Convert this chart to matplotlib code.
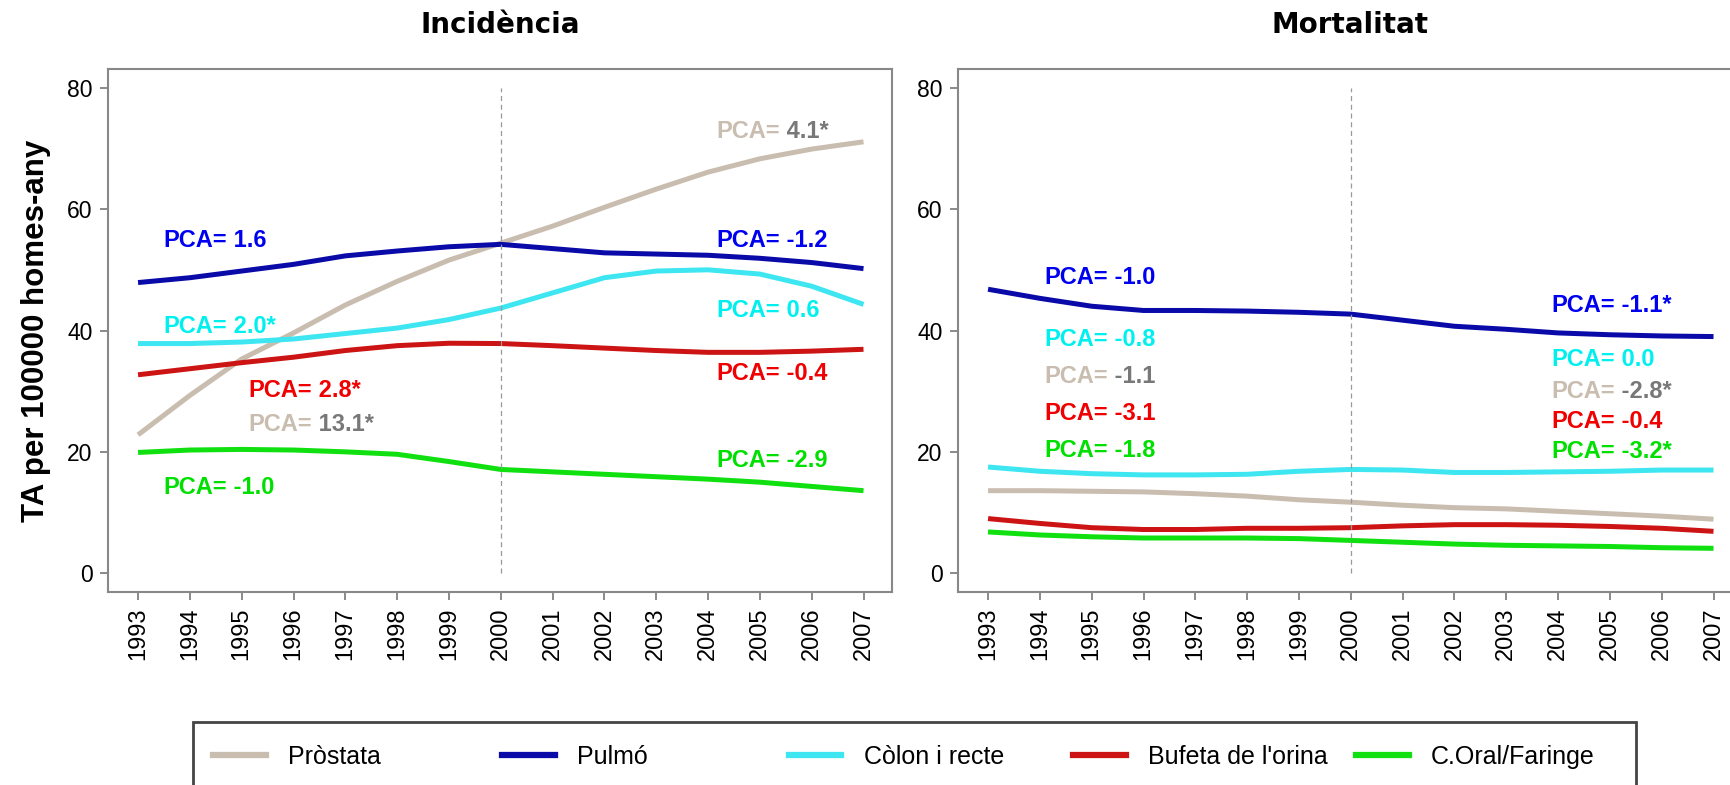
import matplotlib.pyplot as plt
from matplotlib.lines import Line2D
from matplotlib.patches import Rectangle

years = list(range(1993, 2008))
series_names = ['Pròstata', 'Pulmó', 'Còlon i recte', "Bufeta de l'orina", 'C.Oral/Faringe']

# Incidencia (TA per 100000 homes-any)
inc_prostata = [22.8, 29.3, 35.3, 39.6, 44.2, 48.1, 51.6, 54.4, 57.2, 60.3, 63.3, 66.1, 68.3, 69.9, 71.1]
inc_pulmo = [47.9, 48.7, 49.8, 50.9, 52.3, 53.1, 53.8, 54.2, 53.5, 52.8, 52.6, 52.4, 51.9, 51.2, 50.2]
inc_colon = [37.85, 37.85, 38.1, 38.6, 39.5, 40.4, 41.8, 43.7, 46.2, 48.7, 49.8, 50.0, 49.3, 47.3, 44.3]
inc_bufeta = [32.7, 33.7, 34.7, 35.6, 36.7, 37.5, 37.9, 37.85, 37.5, 37.1, 36.7, 36.4, 36.4, 36.6, 36.9]
inc_oral = [19.9, 20.3, 20.4, 20.3, 20.0, 19.6, 18.4, 17.1, 16.7, 16.3, 15.9, 15.5, 15.0, 14.3, 13.6]

# Mortalitat
mort_prostata = [13.6, 13.6, 13.5, 13.4, 13.1, 12.7, 12.1, 11.7, 11.2, 10.8, 10.6, 10.2, 9.8, 9.4, 8.9]
mort_pulmo = [46.8, 45.3, 44.0, 43.3, 43.3, 43.2, 43.0, 42.7, 41.7, 40.7, 40.2, 39.6, 39.3, 39.1, 39.0]
mort_colon = [17.5, 16.8, 16.4, 16.2, 16.2, 16.3, 16.8, 17.1, 17.0, 16.6, 16.6, 16.7, 16.8, 17.0, 17.0]
mort_bufeta = [9.0, 8.2, 7.5, 7.2, 7.2, 7.4, 7.4, 7.5, 7.8, 8.0, 8.0, 7.9, 7.7, 7.4, 6.9]
mort_oral = [6.8, 6.3, 6.0, 5.8, 5.8, 5.8, 5.7, 5.4, 5.1, 4.8, 4.6, 4.5, 4.4, 4.2, 4.1]

# PCA per periode (1993-2000, 2000-2007), same order as series_names
pca_inc_1 = ['13.1*', '1.6', '2.0*', '2.8*', '-1.0']
pca_inc_2 = ['4.1*', '-1.2', '0.6', '-0.4', '-2.9']
pca_mort_1 = ['-1.1', '-1.0', '-0.8', '-3.1', '-1.8']
pca_mort_2 = ['-2.8*', '-1.1*', '0.0', '-0.4', '-3.2*']

line_colors = ['#C9BDB0', '#0A0AA8', '#3DE6F0', '#CC1414', '#10E010']
text_colors = ['#C9BDB0', '#0000F0', '#00F0F0', '#F00000', '#00E000']
gray_num = '#787878'

W, H = 1731, 785
fig = plt.figure(figsize=(W/100, H/100), dpi=100)
ax_l = fig.add_axes([108/W, 1-592/H, 784/W, 523/H])
ax_r = fig.add_axes([958/W, 1-592/H, 784/W, 523/H])


def draw_panel(ax, data, title, pca1, pca2, pos1, pos2):
    for i, y in enumerate(data):
        ax.plot(years, y, color=line_colors[i], lw=3.6, solid_capstyle='butt')
    ax.vlines(2000, 0, 80, color='#999999', lw=0.9, linestyles=(0, (4, 3)))
    # PCA labels
    for pca, pos in [(pca1, pos1), (pca2, pos2)]:
        for i, val in enumerate(pca):
            x, y = pos[i]
            num_color = gray_num if i == 0 else text_colors[i]
            t = ax.text(x, y, 'PCA=', color=text_colors[i], fontsize=17, fontweight='bold',
                        family='Liberation Sans', ha='left', va='bottom')
            ax.annotate(' ' + val, xy=(1, 0), xycoords=t, color=num_color, fontsize=17,
                        fontweight='bold', family='Liberation Sans', ha='left', va='bottom')
    ax.set_xlim(1992.42, 2007.55)
    ax.set_ylim(-3.1, 83.1)
    ax.set_xticks(years)
    ax.set_xticklabels([str(y) for y in years], rotation=90, fontsize=17, family='Liberation Sans')
    ax.set_yticks([0, 20, 40, 60, 80])
    ax.set_yticklabels(['0', '20', '40', '60', '80'], fontsize=16.5, family='Liberation Sans')
    ax.tick_params(length=6, width=1.2, color='#777777', pad=5)
    for s in ax.spines.values():
        s.set_color('#888888')
        s.set_linewidth(1.5)
    ax.set_title(title, fontsize=20, fontweight='bold', family='DejaVu Sans', pad=26)


# label positions (x, y bottom) in data units
dy = -2.0
pos_inc_1 = [(1995.13, 24.6+dy), (1993.48, 55.0+dy), (1993.48, 40.7+dy), (1995.13, 30.2+dy), (1993.48, 14.3+dy)]
pos_inc_2 = [(2004.16, 72.9+dy), (2004.16, 55.0+dy), (2004.16, 43.4+dy), (2004.16, 33.0+dy), (2004.16, 18.7+dy)]
pos_mort_1 = [(1994.08, 32.5+dy), (1994.08, 48.8+dy), (1994.08, 38.7+dy), (1994.08, 26.5+dy), (1994.08, 20.4+dy)]
pos_mort_2 = [(2003.87, 30.0+dy), (2003.87, 44.3+dy), (2003.87, 35.3+dy), (2003.87, 25.1+dy), (2003.87, 20.1+dy)]

draw_panel(ax_l, [inc_prostata, inc_pulmo, inc_colon, inc_bufeta, inc_oral], 'Incidència',
           pca_inc_1, pca_inc_2, pos_inc_1, pos_inc_2)
draw_panel(ax_r, [mort_prostata, mort_pulmo, mort_colon, mort_bufeta, mort_oral], 'Mortalitat',
           pca_mort_1, pca_mort_2, pos_mort_1, pos_mort_2)

ax_l.set_ylabel('TA per 100000 homes-any', fontsize=22.5, fontweight='bold',
                family='Liberation Sans', labelpad=12)

# legend: five equally spaced entries inside one frame
leg_x = [213, 502, 789, 1073, 1356]
for i, name in enumerate(series_names):
    h = Line2D([], [], color=line_colors[i], lw=4.5)
    fig.legend(handles=[h], labels=[name], loc='center left',
               bbox_to_anchor=(leg_x[i]/W, 1-757/H), frameon=False, borderpad=0,
               borderaxespad=0, handlelength=2.1, handletextpad=0.9,
               prop={'family': 'Liberation Sans', 'size': 18})
fig.add_artist(Rectangle((193/W, -0.1), (1636-193)/W, (H-722)/H+0.1, transform=fig.transFigure,
                         fill=False, edgecolor='#444444', lw=2))

fig.savefig('out.png', dpi=100)
